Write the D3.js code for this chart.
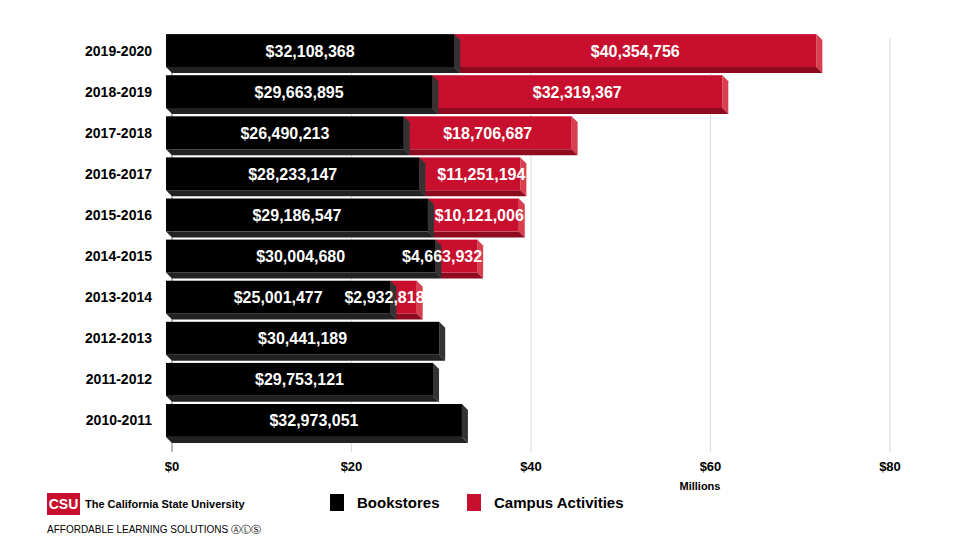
<!DOCTYPE html>
<html><head><meta charset="utf-8">
<script src="https://cdn.jsdelivr.net/npm/d3@7"></script>
<style>body{margin:0;background:#fff}svg{font-family:"Liberation Sans",Arial,sans-serif}</style>
</head><body><svg width="960" height="540"></svg>
<script>
var years = ["2019-2020","2018-2019","2017-2018","2016-2017","2015-2016","2014-2015","2013-2014","2012-2013","2011-2012","2010-2011"];
var bookstores = [32108368,29663895,26490213,28233147,29186547,30004680,25001477,30441189,29753121,32973051];
var campus = [40354756,32319367,18706687,11251194,10121006,4663932,2932818,0,0,0];
var ticks = [0,20,40,60,80];

var svg = d3.select("svg");
var x = d3.scaleLinear().domain([0,80]).range([172,890]);
var y = d3.scaleBand().domain(years).range([33,444]).paddingInner(0.2).paddingOuter(0.1);
var d = 6; // 3D depth
var fmt = v => "$" + d3.format(",")(v);

// grid
svg.selectAll(".g").data(ticks).enter().append("line")
  .attr("x1", t => x(t)).attr("x2", t => x(t)).attr("y1", 38).attr("y2", 452)
  .attr("stroke", t => t == 0 ? "#888" : "#ddd").attr("stroke-width", 1.2);
svg.selectAll(".tl").data(ticks).enter().append("text")
  .attr("x", t => x(t)).attr("y", 471).attr("text-anchor","middle")
  .attr("font-size", 13).attr("font-weight","bold").text(t => "$" + t);
svg.append("text").attr("x", 700).attr("y", 490).attr("text-anchor","middle")
  .attr("font-size", 11).attr("font-weight","bold").text("Millions");

function bar3d(g, x0, x1, yt, h, front, side, bottom) {
  var a = x0 - d, b = x1 - d;
  g.append("polygon").attr("points", [[b,yt],[b+d,yt+d],[b+d,yt+h+d],[b,yt+h]].join(" ")).attr("fill", side);
  g.append("polygon").attr("points", [[a,yt+h],[b,yt+h],[b+d,yt+h+d],[a+d,yt+h+d]].join(" ")).attr("fill", bottom);
  g.append("rect").attr("x", a).attr("y", yt).attr("width", b - a).attr("height", h).attr("fill", front);
}

years.forEach(function(yr, i) {
  var g = svg.append("g");
  var yt = y(yr) - 3, h = y.bandwidth();
  var b = bookstores[i] / 1e6, c = campus[i] / 1e6;
  if (c > 0) bar3d(g, x(b), x(b + c), yt, h, "#c8102e", "#d9404f", "#8e0a1f");
  bar3d(g, x(0), x(b), yt, h, "#000", "#333", "#222");
  g.append("text").attr("x", 152).attr("y", yt + h/2 + 5).attr("text-anchor","end")
    .attr("font-size", 14).attr("font-weight","bold").text(yr);
  g.append("text").attr("x", (x(0) + x(b))/2 - d).attr("y", yt + h/2 + 6).attr("text-anchor","middle")
    .attr("fill","#fff").attr("font-size", 16).attr("font-weight","bold").text(fmt(bookstores[i]));
  if (c > 0) g.append("text").attr("x", Math.max((x(b) + x(b + c))/2 - d, x(b) + 10)).attr("y", yt + h/2 + 6)
    .attr("text-anchor", c < 12 ? "end" : "middle").attr("dx", c < 12 ? (x(b+c)-x(b))/2 + 5 : 0)
    .attr("fill","#fff").attr("font-size", 16).attr("font-weight","bold").text(fmt(campus[i]));
});

// legend
var leg = [["Bookstores","#000"],["Campus Activities","#c8102e"]];
var lx = [330, 467];
leg.forEach(function(l, i) {
  svg.append("rect").attr("x", lx[i]).attr("y", 494).attr("width", 14).attr("height", 17).attr("fill", l[1]);
  svg.append("text").attr("x", lx[i] + 27).attr("y", 508).attr("font-size", 15).attr("font-weight","bold").text(l[0]);
});

// logo
svg.append("rect").attr("x", 47).attr("y", 493).attr("width", 33).attr("height", 22).attr("fill", "#c8102e");
svg.append("text").attr("x", 63.5).attr("y", 509).attr("text-anchor","middle").attr("fill","#fff")
  .attr("font-size", 14).attr("font-weight","bold").attr("font-family","'Liberation Sans Narrow',sans-serif").text("CSU");
svg.append("text").attr("x", 85).attr("y", 508).attr("font-size", 11).attr("font-weight","bold")
  .attr("font-family","'Liberation Sans Narrow',sans-serif").text("The California State University");
svg.append("text").attr("x", 47).attr("y", 533).attr("font-size", 10)
  .attr("font-family","'Liberation Sans Narrow',sans-serif").text("AFFORDABLE LEARNING SOLUTIONS \u24B6\u24C1\u24C8");
</script></body></html>
